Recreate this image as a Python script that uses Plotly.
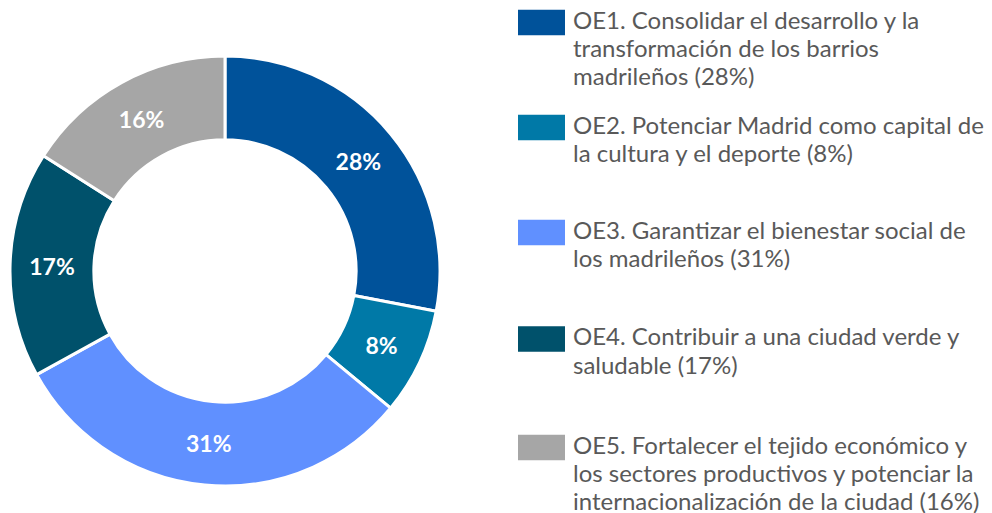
import plotly.graph_objects as go

W, H = 992, 513
PAGE_MARGIN = 8  # body margin of the html page

# data
codes = ["OE1", "OE2", "OE3", "OE4", "OE5"]
shares = [28, 8, 31, 17, 16]
legend_lines = [
    ["OE1. Consolidar el desarrollo y la", "transformación de los barrios", "madrileños (28%)"],
    ["OE2. Potenciar Madrid como capital de", "la cultura y el deporte (8%)"],
    ["OE3. Garantizar el bienestar social de", "los madrileños (31%)"],
    ["OE4. Contribuir a una ciudad verde y", "saludable (17%)"],
    ["OE5. Fortalecer el tejido económico y", "los sectores productivos y potenciar la",
     "internacionalización de la ciudad (16%)"],
]
colors = ["#00529A", "#0079A7", "#6090FF", "#00516B", "#A6A6A6"]

# legend layout (pixels from top of the screenshot)
first_baseline = [26.7, 131.7, 236.7, 343.3, 451.7]
line_gap = 28.3


def px_x(x):
    return (x - PAGE_MARGIN) / W


def px_y(y):
    return 1 - (y - PAGE_MARGIN) / H


fig = go.Figure()

fig.add_trace(go.Pie(
    labels=codes,
    values=shares,
    hole=0.61,
    sort=False,
    direction="clockwise",
    rotation=0,
    marker=dict(colors=colors, line=dict(color="white", width=3)),
    texttemplate="%{value}%",
    textposition="inside",
    insidetextorientation="horizontal",
    textfont=dict(family="Lato", size=23, color="white", weight="bold"),
    domain=dict(x=[px_x(10), px_x(440)], y=[px_y(486), px_y(56)]),
    showlegend=False,
    hoverinfo="label+percent",
))

# custom legend: colour boxes + wrapped text
for i, lines in enumerate(legend_lines):
    b = first_baseline[i]
    fig.add_shape(
        type="rect", xref="paper", yref="paper",
        x0=px_x(518), x1=px_x(565), y0=px_y(b - 17), y1=px_y(b + 8.5),
        fillcolor=colors[i], line=dict(width=0),
    )
    for j, txt in enumerate(lines):
        fig.add_annotation(
            x=px_x(571), y=px_y(b + j * line_gap - 7.5),
            xref="paper", yref="paper",
            xanchor="left", yanchor="middle",
            text=txt, showarrow=False,
            font=dict(family="Lato", size=24, color="#595959"),
        )

fig.update_layout(
    width=W, height=H,
    margin=dict(l=0, r=0, t=0, b=0),
    paper_bgcolor="white",
    plot_bgcolor="white",
    font=dict(family="Lato"),
)

fig.write_html("out.html")
